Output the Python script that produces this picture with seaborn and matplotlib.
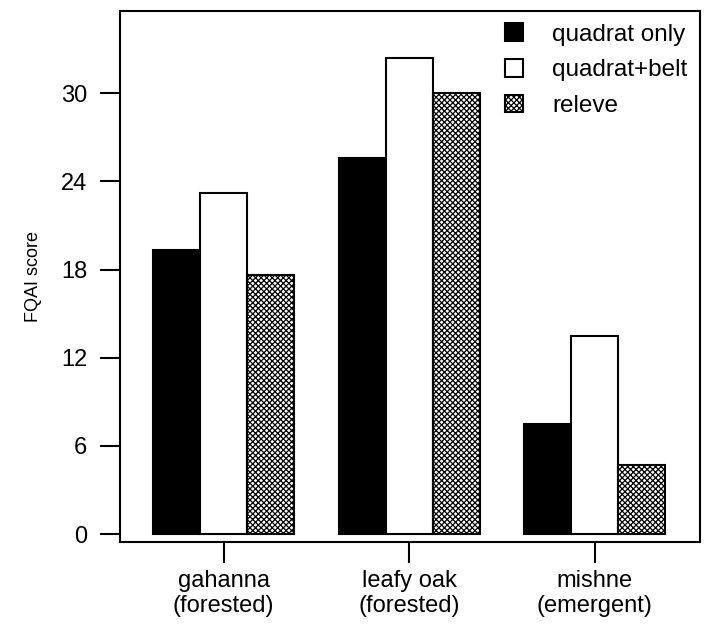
import pandas as pd
import matplotlib
matplotlib.use("Agg")
import matplotlib.pyplot as plt
import seaborn as sns
from matplotlib.patches import Patch

sites = ["gahanna\n(forested)", "leafy oak\n(forested)", "mishne\n(emergent)"]
methods = ["quadrat only", "quadrat+belt", "releve"]
quadrat_only = [19.3, 25.6, 7.5]
quadrat_belt = [23.2, 32.4, 13.5]
releve = [17.6, 30.0, 4.7]

df = pd.DataFrame({
    "site": sites * 3,
    "method": [m for m in methods for _ in sites],
    "score": quadrat_only + quadrat_belt + releve,
})

sns.set_style("ticks")
plt.rcParams["font.family"] = ["Liberation Sans", "DejaVu Sans"]
plt.rcParams["text.color"] = "black"
plt.rcParams["axes.labelcolor"] = "black"
plt.rcParams["xtick.color"] = "black"
plt.rcParams["ytick.color"] = "black"
plt.rcParams["hatch.color"] = "#6a6a6a"
plt.rcParams["hatch.linewidth"] = 0.9

fig = plt.figure(figsize=(7.09, 6.32), dpi=100)
ax = fig.add_axes([0.169, 0.1424, 0.818, 0.8402])

sns.barplot(data=df, x="site", y="score", hue="method", order=sites,
            hue_order=methods, width=0.76, gap=0, ax=ax, legend=False)

# black / white / cross-hatched bars
faces = ["black", "white", "white"]
hatches = [None, None, "xxxxxx"]
for cont, fc, h in zip(ax.containers, faces, hatches):
    for bar in cont:
        bar.set_facecolor(fc)
        bar.set_edgecolor("black")
        bar.set_linewidth(1.5)
        if h:
            bar.set_hatch(h)

ax.set_xlim(-0.56, 2.566)
ax.set_ylim(-0.54, 35.6)
ax.set_yticks([0, 6, 12, 18, 24, 30])
ax.set_xlabel("")
ax.set_ylabel("FQAI score", fontsize=13, labelpad=14)
ax.tick_params(axis="y", length=14.4, width=1.5, labelsize=17, pad=9)
ax.tick_params(axis="x", length=15, width=1.5, labelsize=17, pad=5)
for s in ax.spines.values():
    s.set_visible(True)
    s.set_linewidth(1.5)
    s.set_color("black")

handles = [
    Patch(facecolor="black", edgecolor="black", linewidth=1.5),
    Patch(facecolor="white", edgecolor="black", linewidth=1.5),
    Patch(facecolor="white", edgecolor="black", linewidth=1.5, hatch="xxxxxx"),
]
ax.legend(handles, methods, loc="upper right", frameon=False, fontsize=17.5,
          handlelength=0.75, handleheight=0.75, handletextpad=1.2,
          labelspacing=0.55, borderaxespad=0.1)

fig.savefig("out.png", dpi=100)
